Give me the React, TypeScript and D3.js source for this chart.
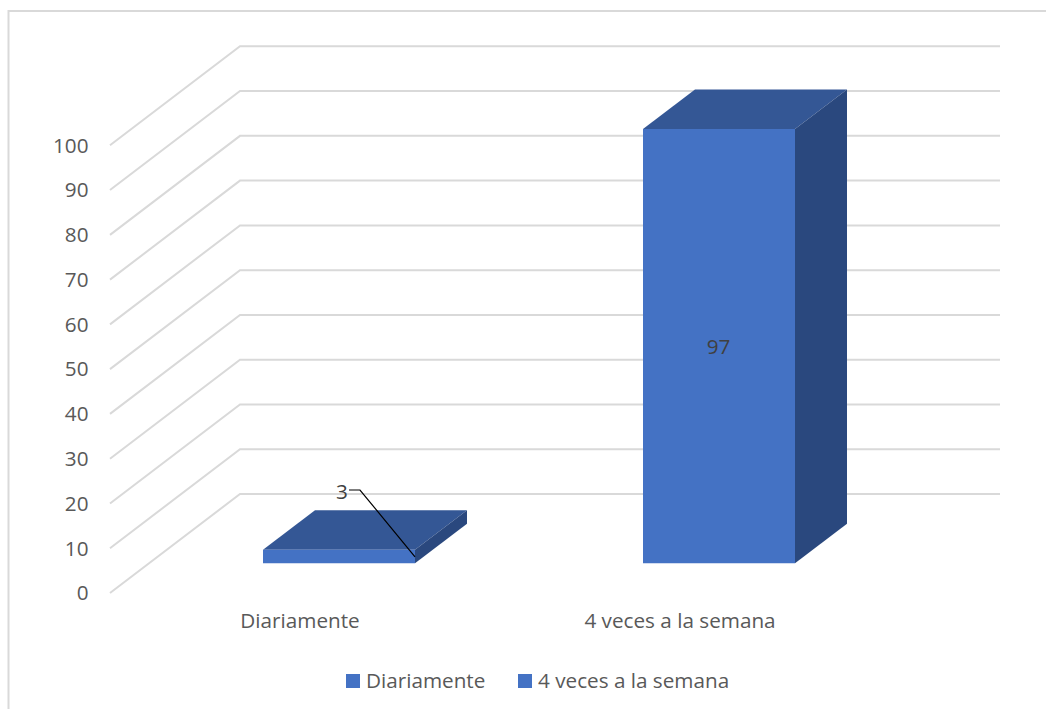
import React, { useRef, useEffect } from 'react';
import * as d3 from 'd3';

const categories = ['Diariamente', '4 veces a la semana'];
const values = [3, 97];
const yTicks = [0, 10, 20, 30, 40, 50, 60, 70, 80, 90, 100];

const FONT = '"Open Sans", "Noto Sans", sans-serif';
const FONT_SIZE = 20.7;
const TEXT = '#595959';

const App: React.FC = () => {
  const ref = useRef<SVGSVGElement | null>(null);

  useEffect(() => {
    if (!ref.current) return;
    const svg = d3.select(ref.current);
    svg.selectAll('*').remove();

    // front edge of the floor and how far the 3D depth shifts things
    const depthX = 130;
    const depthY = -99;
    const yScale = d3.scaleLinear().domain([0, 100]).range([593, 145.3]);
    const xScale = d3.scaleBand<string>().domain(categories).range([110, 870]);
    const zScale = d3.scaleLinear().domain([0, 1]).range([0, 1]);

    const project = (x: number, value: number, z: number): [number, number] => [
      x + zScale(z) * depthX,
      yScale(value) + zScale(z) * depthY,
    ];
    const pts = (list: [number, number][]) => list.map((p) => p.join(',')).join(' ');

    // chart frame, only top and left are visible
    svg.append('path')
      .attr('d', 'M8.5,709V11H1046')
      .attr('fill', 'none')
      .attr('stroke', '#d9d9d9')
      .attr('stroke-width', 2);

    // gridlines on the side wall and back wall
    svg.append('g')
      .selectAll('polyline')
      .data(yTicks)
      .enter()
      .append('polyline')
      .attr('points', (d) => pts([
        project(110, d, 0),
        project(110, d, 1),
        project(870, d, 1),
      ]))
      .attr('fill', 'none')
      .attr('stroke', '#d9d9d9')
      .attr('stroke-width', 2);

    // bars
    const zFront = 0.3;
    const zBack = 0.7;
    const barWidth = xScale.bandwidth() * 0.4;
    const bars = svg.append('g').selectAll('g')
      .data(values)
      .enter()
      .append('g');

    const left = (i: number) => xScale(categories[i])! + (xScale.bandwidth() - barWidth) / 2;

    bars.append('polygon')
      .attr('points', (d, i) => pts([
        project(left(i), d, zFront),
        project(left(i), d, zBack),
        project(left(i) + barWidth, d, zBack),
        project(left(i) + barWidth, d, zFront),
      ]))
      .attr('fill', '#345795');

    bars.append('polygon')
      .attr('points', (d, i) => pts([
        project(left(i) + barWidth, 0, zFront),
        project(left(i) + barWidth, d, zFront),
        project(left(i) + barWidth, d, zBack),
        project(left(i) + barWidth, 0, zBack),
      ]))
      .attr('fill', '#2a487e');

    bars.append('polygon')
      .attr('points', (d, i) => pts([
        project(left(i), 0, zFront),
        project(left(i), d, zFront),
        project(left(i) + barWidth, d, zFront),
        project(left(i) + barWidth, 0, zFront),
      ]))
      .attr('fill', '#4472c4');

    // y axis labels
    const yAxis = d3.axisLeft(yScale)
      .tickValues(yTicks)
      .tickSize(0)
      .tickPadding(0);
    const yG = svg.append('g')
      .attr('transform', 'translate(88.5,0)')
      .call(yAxis);
    yG.select('.domain').remove();
    yG.selectAll('text')
      .attr('font-family', FONT)
      .attr('font-size', FONT_SIZE)
      .attr('fill', TEXT)
      .attr('dy', '0.33em');

    // category labels
    const xAxis = d3.axisBottom(xScale).tickSize(0).tickPadding(0);
    const xG = svg.append('g')
      .attr('transform', 'translate(0,613)')
      .call(xAxis);
    xG.select('.domain').remove();
    xG.selectAll('text')
      .attr('font-family', FONT)
      .attr('font-size', FONT_SIZE)
      .attr('fill', TEXT)
      .attr('dy', '0.71em');

    // data labels
    const label3: [number, number] = project(left(0) + barWidth, values[0], zFront);
    svg.append('polyline')
      .attr('points', pts([[349, 490], [360, 490], [label3[0], label3[1] + 7]]))
      .attr('fill', 'none')
      .attr('stroke', '#000000')
      .attr('stroke-width', 1.2);
    svg.append('text')
      .attr('x', 342)
      .attr('y', 499)
      .attr('text-anchor', 'middle')
      .attr('font-family', FONT)
      .attr('font-size', FONT_SIZE)
      .attr('fill', '#404040')
      .text(values[0]);
    svg.append('text')
      .attr('x', 718.5)
      .attr('y', 354)
      .attr('text-anchor', 'middle')
      .attr('font-family', FONT)
      .attr('font-size', FONT_SIZE)
      .attr('fill', '#404040')
      .text(values[1]);

    // legend
    const legendX = [346, 518];
    const legend = svg.append('g').selectAll('g')
      .data(categories)
      .enter()
      .append('g')
      .attr('transform', (_, i) => `translate(${legendX[i]},674)`);
    legend.append('rect')
      .attr('width', 14)
      .attr('height', 14)
      .attr('fill', '#4472c4');
    legend.append('text')
      .attr('x', 20)
      .attr('y', 14)
      .attr('font-family', FONT)
      .attr('font-size', FONT_SIZE)
      .attr('fill', TEXT)
      .text((d) => d);
  }, []);

  return (
    <svg
      ref={ref}
      width={1046}
      height={709}
      style={{ position: 'absolute', left: 0, top: 0, background: '#ffffff' }}
    />
  );
};

export default App;
